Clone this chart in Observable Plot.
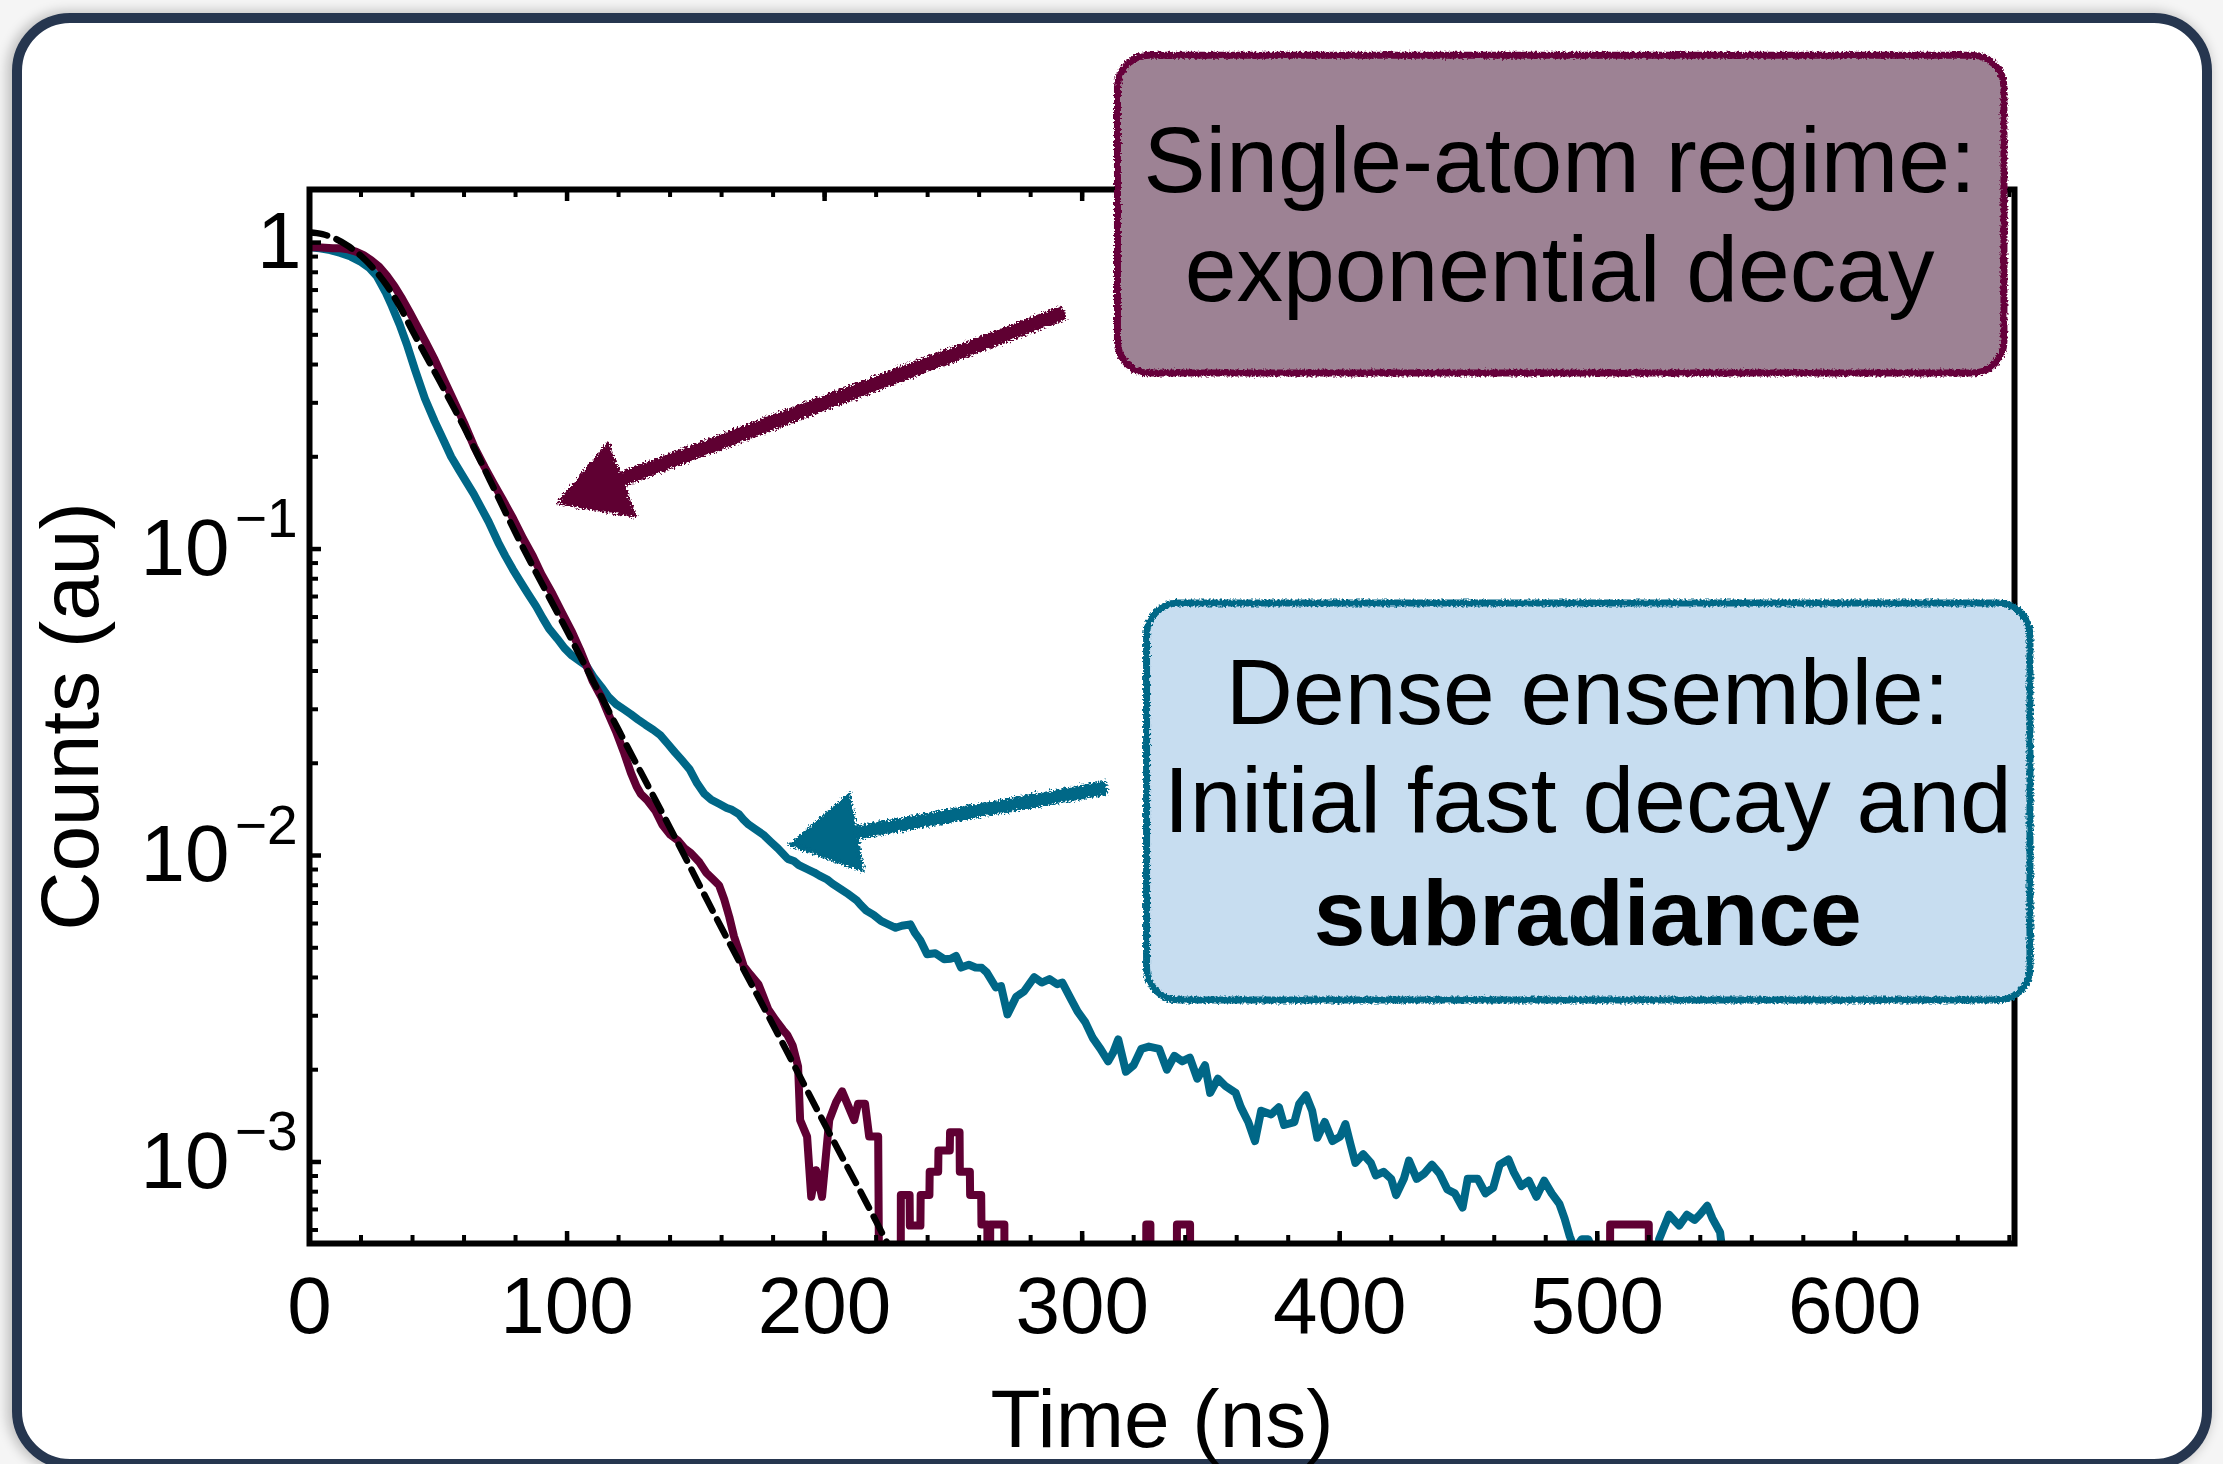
<!DOCTYPE html>
<html>
<head>
<meta charset="utf-8">
<script src="https://cdn.jsdelivr.net/npm/d3@7"></script>
<script src="https://cdn.jsdelivr.net/npm/@observablehq/plot@0.6"></script>
<style>
html, body { margin: 0; padding: 0; background: #f5f5f5; }
#page { position: relative; width: 2223px; height: 1464px; overflow: hidden; background: #f5f5f5; }
#card { position: absolute; left: 12px; top: 13px; width: 2200px; height: 1456px; box-sizing: border-box;
        border: 10px solid #26364f; border-radius: 58px; background: #ffffff;
        box-shadow: -3px 0 12px 2px rgba(0,0,0,0.22); }
#chart { position: absolute; left: 0; top: 0; width: 2223px; height: 1464px; }
</style>
</head>
<body>
<div id="page"><div id="card"></div><div id="chart"></div></div>
<script>
// ---------- data: [time (ns), normalized counts] ----------
const singleAtom = [
  [0,0.965],[3,0.965],[6,0.962],[9,0.958],[12,0.958],[15,0.95],[18,0.935],[21,0.91],[24,0.875],[27,0.835],
  [30,0.78],[33,0.72],[36,0.655],[39,0.59],[42,0.53],[45,0.475],[48.6,0.415],[52,0.36],[56,0.305],[60,0.258],
  [64,0.215],[68,0.185],[71.4,0.164],[75,0.145],[79,0.126],[83,0.108],[86.7,0.095],[90,0.083],[94.3,0.0715],
  [98,0.062],[101.9,0.0537],[105,0.047],[107.6,0.0415],[110,0.037],[113.3,0.0329],[116,0.029],[119,0.0254],
  [122,0.0218],[124.8,0.0186],[127,0.0168],[128.6,0.0159],[131,0.0152],[134.3,0.014],[137,0.0126],[140,0.0117],
  [143,0.0112],[145.7,0.01054],[148,0.0102],[151.4,0.0095],[154,0.0088],[157.1,0.0083],[159,0.008],[161,0.0072],
  [163,0.0063],[164.8,0.00545],[167,0.0048],[168.6,0.00435],[171,0.0041],[174.3,0.0038],[176,0.0035],
  [178.1,0.00315],[181,0.0029],[183.8,0.0027],[185.5,0.0026],[187.6,0.0024],[189.7,0.00205],[190.5,0.00137],
  [193.2,0.00121],[194.8,0.00077],[196.7,0.00094],[199,0.00077],[201.8,0.00137],[204.5,0.00157],[206.8,0.0017],
  [208.8,0.00155],[211.5,0.00137],[213,0.00155],[215.7,0.00155],[217.3,0.00121],[220.8,0.00121],[221.6,0],
  [229.5,0],[229.6,0.00078],[233,0.00078],[233.1,0.00062],[237.2,0.00062],[237.3,0.00078],[240.7,0.00078],
  [240.8,0.00093],[244.1,0.00093],[244.2,0.00109],[248.6,0.00109],[248.7,0.00125],[252.4,0.00125],[252.5,0.00093],
  [256.4,0.00093],[256.5,0.00078],[260.8,0.00078],[260.9,0.000625],[263.2,0.000625],[263.3,0],[264.2,0],
  [264.3,0.000625],[269.8,0.000625],[269.9,0],[324.8,0],[324.9,0.000625],[326.5,0.000625],[326.6,0],[336.7,0],
  [336.8,0.000625],[341.9,0.000625],[342,0],[504.9,0],[505,0.000625],[520,0.000625],[520.1,0],[660,0]
];
const denseEnsemble = [
  [0,0.965],[4,0.958],[8,0.945],[12,0.925],[16,0.9],[20,0.865],[23,0.83],[26,0.78],[29.5,0.69],[32,0.62],
  [35,0.54],[38,0.46],[41,0.384],[44.8,0.31],[48.6,0.261],[52.4,0.223],[55,0.2],[58.1,0.181],[61,0.165],
  [63.8,0.151],[66.5,0.137],[69.5,0.123],[73.3,0.105],[76,0.095],[79,0.0857],[82,0.078],[84.8,0.0715],[88,0.065],
  [90.5,0.0596],[93,0.055],[96.2,0.051],[99,0.0475],[101.9,0.0449],[105,0.043],[107.6,0.0415],[110.5,0.038],
  [113.3,0.0355],[116,0.033],[119,0.0312],[122,0.03],[124.8,0.0289],[127.5,0.0278],[130.5,0.0267],[133.5,0.0257],
  [136.2,0.0247],[139,0.0232],[141.9,0.0217],[144.5,0.0205],[147.6,0.0191],[150.5,0.0172],[153.3,0.0159],
  [156,0.0152],[159,0.01475],[162,0.0143],[164,0.0141],[166.7,0.01364],[168.5,0.0131],[170.5,0.01262],[173,0.0122],
  [176.2,0.01169],[179,0.0111],[181.9,0.01054],[184,0.0101],[185.7,0.00975],[188,0.0096],[190,0.0093],
  [193.3,0.00902],[196,0.0088],[198,0.0086],[201,0.00835],[203,0.0081],[206.7,0.00773],[209,0.0075],[212.4,0.00715],
  [214,0.0069],[216.2,0.00661],[219,0.0064],[221.9,0.00612],[224,0.006],[227.6,0.00581],[230,0.0059],[233.3,0.00596],
  [235,0.0056],[237.1,0.0053],[239.8,0.00476],[243,0.0048],[246.4,0.00459],[249,0.0046],[251,0.0047],[253,0.00431],
  [256,0.0044],[258.6,0.00431],[261,0.0043],[263,0.00415],[266.5,0.00371],[268.5,0.00375],[271,0.00303],
  [274.4,0.00346],[277.4,0.0036],[281.4,0.00401],[284.3,0.00385],[287.3,0.00395],[290.3,0.0038],[292.3,0.00385],
  [295.2,0.00346],[298.2,0.0031],[301.2,0.00286],[304.1,0.00254],[307.1,0.00234],[310.1,0.00213],[312.1,0.00228],
  [314,0.00251],[317,0.00197],[320,0.00207],[323,0.00234],[325.9,0.00238],[329.9,0.00234],[332.9,0.002],
  [335.8,0.00222],[338.8,0.00213],[341.8,0.00219],[344.7,0.00187],[347.7,0.00207],[349.7,0.00168],[352.7,0.00187],
  [355.6,0.00177],[359.6,0.00168],[361.6,0.00151],[364.5,0.00135],[367.1,0.00117],[369.5,0.00147],[373.4,0.00143],
  [376.4,0.00151],[378.4,0.00132],[382.4,0.00135],[384.3,0.00155],[386.9,0.00165],[389.3,0.00147],[391.3,0.0012],
  [394.2,0.00135],[397.2,0.00117],[400.2,0.00121],[402.2,0.00133],[404.1,0.00115],[406.1,0.000993],[409.1,0.00106],
  [412.1,0.000993],[414,0.000904],[417,0.000929],[420,0.000881],[421.9,0.00078],[424.9,0.000881],[426.9,0.00101],
  [429.9,0.000881],[432.8,0.000916],[435.8,0.00098],[438.8,0.000916],[441.8,0.000813],[444.7,0.00079],
  [447.7,0.00071],[449.7,0.000881],[453.6,0.000881],[456.6,0.00079],[459.6,0.000824],[462.1,0.00098],
  [465.5,0.00102],[467.5,0.000929],[470.5,0.000834],[473.4,0.000869],[476.4,0.00077],[479.4,0.000869],
  [482.3,0.00079],[485.3,0.00073],[487.3,0.000655],[489.3,0.000573],[491.2,0.00052],[494,0.00056],[496.5,0.00056],
  [498,0.00052],[499.5,0],[523.5,0],[524,0.00056],[527.9,0.000673],[531.8,0.00062],[534.8,0.000673],
  [537.8,0.000647],[539.8,0.000673],[542.7,0.00072],[544.7,0.000655],[547.7,0.000589],[548.7,0.0005],[549.5,0],[660,0]
];
const exponentialFit = [
  [0,1.08],[5,1.065],[10,1.03],[15,0.975],[20,0.905],[25,0.82],[30,0.725],[35,0.62],[40,0.515],[45,0.43],
  [50,0.36],[55,0.3],[60,0.25],[65,0.205],[70,0.168],[80,0.113],[100,0.054],[120,0.0257],[140,0.0123],
  [160,0.0058],[180,0.0028],[200,0.00133],[220,0.00064],[226,0.00051]
];

// ---------- axes ----------
const xTickLabels = [0, 100, 200, 300, 400, 500, 600];
const yDecades = [1, 0.1, 0.01, 0.001];
const yDecadeBase = ["1", "10", "10", "10"];
const yDecadeExp = ["", "\u22121", "\u22122", "\u22123"];
const xDomain = [0, 662];
const yDomain = [5.42e-4, 1.49];

// ---------- annotations (in data coordinates) ----------
const singleBox = {x1: 313.9, x2: 658.1, y1: 0.3738, y2: 4.07};
const denseBox = {x1: 325.2, x2: 668.2, y1: 0.003365, y2: 0.06643};
const singleLines = [{t: 485.4, y: 1.461, s: "Single-atom regime:"}, {t: 485.4, y: 0.647, s: "exponential decay"}];
const denseLines = [{t: 496.3, y: 0.02696, s: "Dense ensemble:"}, {t: 496.3, y: 0.01189, s: "Initial fast decay and"}];
const denseBold = [{t: 496.3, y: 0.005087, s: "subradiance"}];
const singleArrow = {x1: 293.0, y1: 0.591, x2: 112.9, y2: 0.1588, angle: 249.6};
const denseArrow = {x1: 309.7, y1: 0.01667, x2: 203.7, y2: 0.01153, angle: 259.5};

// ---------- build ----------
const MAROON = "#5f0033", TEAL = "#006787";
const FONT = "Liberation Sans, Arial, Helvetica, sans-serif";
const toRows = arr => arr.map(([t, v]) => ({t, v}));
const below = 1e-4; // zero counts fall below the axis and are clipped
const yOf = d => (d.v > 0 ? d.v : below);

const xMinor = d3.range(0, 661, 20);
const yMinor = [];
for (let k = -4; k <= 0; k++) for (let m = 2; m <= 9; m++) {
  const v = m * Math.pow(10, k);
  if (v >= yDomain[0] && v <= yDomain[1]) yMinor.push(v);
}
const yLabelRows = yDecades.map((v, i) => ({v, base: yDecadeBase[i], exp: yDecadeExp[i]}));

const W = 2223, H = 1464, mL = 309, mR = 209, mT = 189, mB = 221;
const frameW = W - mL - mR, frameH = H - mT - mB;

const chart = Plot.plot({
  width: W, height: H,
  marginLeft: mL, marginRight: mR, marginTop: mT, marginBottom: mB,
  x: {type: "linear", domain: xDomain, axis: null},
  y: {type: "log", domain: yDomain, axis: null},
  style: {background: "transparent", overflow: "visible", fontFamily: FONT},
  marks: [
    // data
    Plot.line(toRows(denseEnsemble), {x: "t", y: yOf, stroke: TEAL, strokeWidth: 8, strokeLinejoin: "round", clip: true}),
    Plot.line(toRows(singleAtom), {x: "t", y: yOf, stroke: MAROON, strokeWidth: 8, strokeLinejoin: "round", clip: true}),
    Plot.line(toRows(exponentialFit), {x: "t", y: "v", stroke: "black", strokeWidth: 6.5, strokeDasharray: "18,10", curve: "monotone-x", clip: true}),
    // frame + inward ticks
    Plot.frame({stroke: "black", strokeWidth: 6}),
    Plot.tickX(xMinor, {x: d => d, stroke: "black", strokeWidth: 4, insetTop: frameH - 8}),
    Plot.tickX(xTickLabels, {x: d => d, stroke: "black", strokeWidth: 4.5, insetTop: frameH - 12}),
    Plot.tickX(xMinor, {x: d => d, stroke: "black", strokeWidth: 4, insetBottom: frameH - 8}),
    Plot.tickX(xTickLabels, {x: d => d, stroke: "black", strokeWidth: 4.5, insetBottom: frameH - 12}),
    Plot.tickY(yMinor, {y: d => d, stroke: "black", strokeWidth: 4, insetRight: frameW - 9}),
    Plot.tickY(yDecades, {y: d => d, stroke: "black", strokeWidth: 4.5, insetRight: frameW - 12}),
    // tick labels
    Plot.text(xTickLabels, {x: d => d, frameAnchor: "bottom", text: d => String(d), dy: 89, lineAnchor: "bottom",
      textAnchor: "middle", fontSize: 80, fontFamily: FONT, fill: "black"}),
    Plot.text(yLabelRows.filter(r => r.exp === ""), {x: () => 0, y: "v", text: "base", textAnchor: "end", dx: -8,
      fontSize: 80, fontFamily: FONT, fill: "black"}),
    Plot.text(yLabelRows.filter(r => r.exp !== ""), {x: () => 0, y: "v", text: "base", textAnchor: "end", dx: -80,
      fontSize: 80, fontFamily: FONT, fill: "black"}),
    Plot.text(yLabelRows.filter(r => r.exp !== ""), {x: () => 0, y: "v", text: "exp", textAnchor: "end", dx: -12, dy: -12,
      lineAnchor: "bottom", fontSize: 55, fontFamily: FONT, fill: "black"}),
    // axis labels
    Plot.text(["Time (ns)"], {frameAnchor: "bottom", text: d => d, dy: 203, lineAnchor: "bottom", textAnchor: "middle",
      fontSize: 82, fontFamily: FONT, fill: "black"}),
    Plot.text(["Counts (au)"], {frameAnchor: "left", text: d => d, dx: -238, rotate: -90, textAnchor: "middle",
      lineAnchor: "middle", fontSize: 82, fontFamily: FONT, fill: "black"}),
    // annotation boxes
    Plot.rect([singleBox], {x1: "x1", x2: "x2", y1: "y1", y2: "y2", fill: "#9d8294", rx: 32}),
    Plot.rect([singleBox], {x1: "x1", x2: "x2", y1: "y1", y2: "y2", fill: "none", stroke: "#66003a", strokeWidth: 7, rx: 32, ariaDescription: "rough-box"}),
    Plot.rect([denseBox], {x1: "x1", x2: "x2", y1: "y1", y2: "y2", fill: "#c7ddf0", rx: 32}),
    Plot.rect([denseBox], {x1: "x1", x2: "x2", y1: "y1", y2: "y2", fill: "none", stroke: TEAL, strokeWidth: 7, rx: 32, ariaDescription: "rough-box"}),
    Plot.text(singleLines, {x: "t", y: "y", text: "s", lineAnchor: "bottom", fontSize: 93, fontFamily: FONT, fill: "black"}),
    Plot.text(denseLines, {x: "t", y: "y", text: "s", lineAnchor: "bottom", fontSize: 93, fontFamily: FONT, fill: "black"}),
    Plot.text(denseBold, {x: "t", y: "y", text: "s", lineAnchor: "bottom", fontSize: 93, fontWeight: "bold", fontFamily: FONT, fill: "black"}),
    // arrows
    Plot.link([singleArrow], {x1: "x1", y1: "y1", x2: "x2", y2: "y2", stroke: MAROON, strokeWidth: 15, ariaDescription: "rough-arrow"}),
    Plot.dot([singleArrow], {x: "x2", y: "y2", r: 28, symbol: "triangle", fill: MAROON, stroke: MAROON, strokeWidth: 4, rotate: singleArrow.angle, ariaDescription: "rough-arrow"}),
    Plot.link([denseArrow], {x1: "x1", y1: "y1", x2: "x2", y2: "y2", stroke: TEAL, strokeWidth: 14, ariaDescription: "rough-arrow"}),
    Plot.dot([denseArrow], {x: "x2", y: "y2", r: 28, symbol: "triangle", fill: TEAL, stroke: TEAL, strokeWidth: 4, rotate: denseArrow.angle, ariaDescription: "rough-arrow"})
  ]
});

// hand-drawn look for annotation borders and arrows
const ns = "http://www.w3.org/2000/svg";
const defs = document.createElementNS(ns, "defs");
defs.innerHTML =
  '<filter id="roughBox" x="-5%" y="-5%" width="110%" height="110%">' +
  '<feTurbulence type="fractalNoise" baseFrequency="0.45" numOctaves="2" seed="7" result="n"/>' +
  '<feDisplacementMap in="SourceGraphic" in2="n" scale="5" xChannelSelector="R" yChannelSelector="G"/></filter>' +
  '<filter id="roughArrow" x="-30%" y="-30%" width="160%" height="160%">' +
  '<feTurbulence type="fractalNoise" baseFrequency="0.5" numOctaves="2" seed="3" result="n"/>' +
  '<feDisplacementMap in="SourceGraphic" in2="n" scale="8" xChannelSelector="R" yChannelSelector="G"/></filter>';
chart.insertBefore(defs, chart.firstChild);
chart.querySelectorAll('[aria-description="rough-box"]').forEach(g => g.setAttribute("filter", "url(#roughBox)"));
chart.querySelectorAll('[aria-description="rough-arrow"]').forEach(g => g.setAttribute("filter", "url(#roughArrow)"));

document.getElementById("chart").appendChild(chart);
</script>
</body>
</html>
